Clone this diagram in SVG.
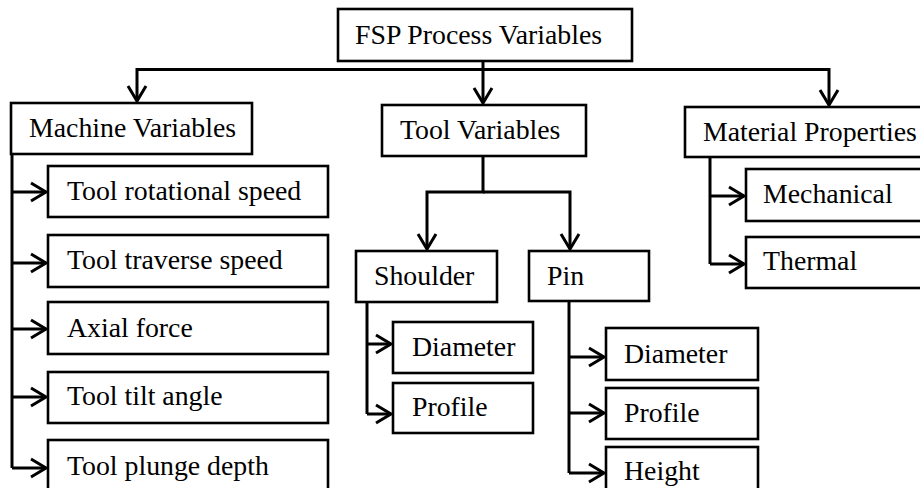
<svg xmlns="http://www.w3.org/2000/svg" width="920" height="488" viewBox="0 0 920 488">
<style>
.box{fill:#fff;stroke:#000;stroke-width:2.6}
.lbl{font-family:"Liberation Serif","Times New Roman",serif;font-size:27.8px;fill:#000}
.con{fill:none;stroke:#000;stroke-width:3;marker-end:url(#arr)}
.ln{fill:none;stroke:#000;stroke-width:3}
</style>
<defs>
<marker id="arr" markerUnits="userSpaceOnUse" markerWidth="40" markerHeight="40" refX="0" refY="0" orient="auto" overflow="visible">
<path d="M-15,-9 L0,0 L-15,9" fill="none" stroke="#000" stroke-width="3"/>
</marker>
</defs>
<rect width="920" height="488" fill="#fff"/>
<g id="connectors">
<path class="con" d="M483,61 V103"/>
<path class="con" d="M483,69.5 H137 V101"/>
<path class="con" d="M483,69.5 H829 V105"/>
<path class="con" d="M483,156 V192 H427 V249"/>
<path class="con" d="M483,192 H570 V249"/>
<path class="ln" d="M12,154 V468"/>
<path class="con" d="M12,192 H46"/>
<path class="con" d="M12,263 H46"/>
<path class="con" d="M12,329 H46"/>
<path class="con" d="M12,397 H46"/>
<path class="con" d="M12,468 H46"/>
<path class="ln" d="M367,302 V414"/>
<path class="con" d="M367,344 H391"/>
<path class="con" d="M367,414 H391"/>
<path class="ln" d="M569,301 V473"/>
<path class="con" d="M569,357 H604"/>
<path class="con" d="M569,413 H604"/>
<path class="con" d="M569,473 H604"/>
<path class="ln" d="M710,157 V264"/>
<path class="con" d="M710,196 H744"/>
<path class="con" d="M710,264 H744"/>
</g>
<g id="fsp"><rect class="box" x="338" y="9" width="294" height="52"/><text class="lbl" x="355" y="43.5">FSP Process Variables</text></g>
<g id="machine"><rect class="box" x="11" y="103" width="241" height="51"/><text class="lbl" x="29" y="137">Machine Variables</text></g>
<g id="tool"><rect class="box" x="382" y="105" width="204" height="51"/><text class="lbl" x="400" y="139">Tool Variables</text></g>
<g id="material"><rect class="box" x="685" y="107" width="245" height="50"/><text class="lbl" x="703" y="140.5">Material Properties</text></g>
<g id="rotational"><rect class="box" x="48" y="166" width="280" height="51"/><text class="lbl" x="67" y="200">Tool rotational speed</text></g>
<g id="traverse"><rect class="box" x="48" y="235" width="280" height="52"/><text class="lbl" x="67" y="269">Tool traverse speed</text></g>
<g id="axial"><rect class="box" x="48" y="302" width="280" height="52"/><text class="lbl" x="67" y="337">Axial force</text></g>
<g id="tilt"><rect class="box" x="48" y="372" width="280" height="51"/><text class="lbl" x="67" y="405">Tool tilt angle</text></g>
<g id="plunge"><rect class="box" x="48" y="440" width="280" height="60"/><text class="lbl" x="67" y="475">Tool plunge depth</text></g>
<g id="shoulder"><rect class="box" x="356" y="251" width="141" height="51"/><text class="lbl" x="374" y="285">Shoulder</text></g>
<g id="pin"><rect class="box" x="529" y="251" width="120" height="50"/><text class="lbl" x="547" y="285">Pin</text></g>
<g id="s-diameter"><rect class="box" x="393" y="322" width="140" height="51"/><text class="lbl" x="412" y="356">Diameter</text></g>
<g id="s-profile"><rect class="box" x="393" y="383" width="140" height="50"/><text class="lbl" x="412" y="416">Profile</text></g>
<g id="p-diameter"><rect class="box" x="606" y="328" width="152" height="52"/><text class="lbl" x="624" y="362.5">Diameter</text></g>
<g id="p-profile"><rect class="box" x="606" y="388" width="152" height="51"/><text class="lbl" x="624" y="422">Profile</text></g>
<g id="p-height"><rect class="box" x="606" y="447" width="152" height="60"/><text class="lbl" x="624" y="480">Height</text></g>
<g id="mechanical"><rect class="box" x="746" y="169" width="190" height="52"/><text class="lbl" x="763" y="203">Mechanical</text></g>
<g id="thermal"><rect class="box" x="746" y="237" width="190" height="51"/><text class="lbl" x="763" y="270">Thermal</text></g>
</svg>
